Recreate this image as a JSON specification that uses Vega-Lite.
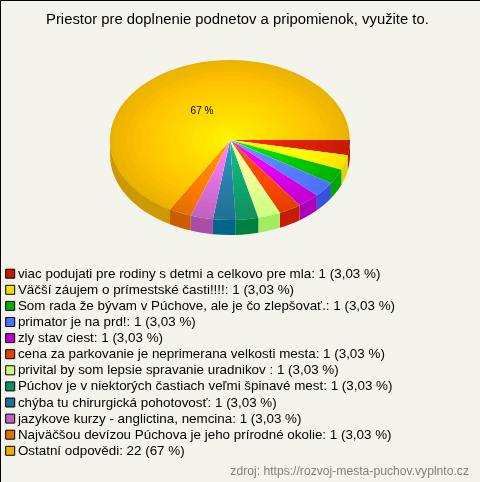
{
"$schema":"https://vega.github.io/schema/vega-lite/v6.json",
"width":480,"height":482,"padding":0,"autosize":{"type":"none"},
"background":"#f5f4ec",
"config":{"view":{"stroke":"#000","strokeWidth":1},"font":"Liberation Sans"},
"title":{"text":"Priestor pre doplnenie podnetov a pripomienok, využite to.","anchor":"start","frame":"group","dx":46,"offset":-27,"font":"Liberation Sans","fontSize":14.85,"fontWeight":"normal","color":"#000"},
"datasets":{"slices":[
{"answer":"viac podujati pre rodiny s detmi a celkovo pre mla","count":1,"label":"viac podujati pre rodiny s detmi a celkovo pre mla: 1 (3,03 %)"},
{"answer":"Väčší záujem o prímestské časti!!!!","count":1,"label":"Väčší záujem o prímestské časti!!!!: 1 (3,03 %)"},
{"answer":"Som rada že bývam v Púchove, ale je čo zlepšovať.","count":1,"label":"Som rada že bývam v Púchove, ale je čo zlepšovať.: 1 (3,03 %)"},
{"answer":"primator je na prd!","count":1,"label":"primator je na prd!: 1 (3,03 %)"},
{"answer":"zly stav ciest","count":1,"label":"zly stav ciest: 1 (3,03 %)"},
{"answer":"cena za parkovanie je neprimerana velkosti mesta","count":1,"label":"cena za parkovanie je neprimerana velkosti mesta: 1 (3,03 %)"},
{"answer":"privital by som lepsie spravanie uradnikov ","count":1,"label":"privital by som lepsie spravanie uradnikov : 1 (3,03 %)"},
{"answer":"Púchov je v niektorých častiach veľmi špinavé mest","count":1,"label":"Púchov je v niektorých častiach veľmi špinavé mest: 1 (3,03 %)"},
{"answer":"chýba tu chirurgická pohotovosť","count":1,"label":"chýba tu chirurgická pohotovosť: 1 (3,03 %)"},
{"answer":"jazykove kurzy - anglictina, nemcina","count":1,"label":"jazykove kurzy - anglictina, nemcina: 1 (3,03 %)"},
{"answer":"Najväčšou devízou Púchova je jeho prírodné okolie","count":1,"label":"Najväčšou devízou Púchova je jeho prírodné okolie: 1 (3,03 %)"},
{"answer":"Ostatní odpovědi","count":22,"label":"Ostatní odpovědi: 22 (67 %)"}
]},
"layer":[
{"data":{"name":"slices"},
 "mark":{"type":"point","filled":true,"opacity":1,"strokeWidth":0,"size":4},
 "encoding":{
  "x":{"datum":0,"type":"quantitative","scale":{"domain":[-230,250],"nice":false,"zero":false},"axis":null},
  "y":{"datum":0,"type":"quantitative","scale":{"domain":[342,-140],"nice":false,"zero":false},"axis":null},
  "shape":{"field":"answer","type":"nominal","sort":null,"legend":null,"scale":{"range":[
   "M120 0A120 80 0 0 1 117.83 15.14L117.83 30.14A120 80 0 0 0 120 15Z",
   "M117.83 15.14A120 80 0 0 1 111.4 29.73L111.4 44.73A120 80 0 0 0 117.83 30.14Z",
   "M111.4 29.73A120 80 0 0 1 100.95 43.25L100.95 58.25A120 80 0 0 0 111.4 44.73Z",
   "M100.95 43.25A120 80 0 0 1 86.85 55.21L86.85 70.21A120 80 0 0 0 100.95 58.25Z",
   "M86.85 55.21A120 80 0 0 1 69.61 65.17L69.61 80.17A120 80 0 0 0 86.85 70.21Z",
   "M69.61 65.17A120 80 0 0 1 49.85 72.77L49.85 87.77A120 80 0 0 0 69.61 80.17Z",
   "M49.85 72.77A120 80 0 0 1 28.29 77.74L28.29 92.74A120 80 0 0 0 49.85 87.77Z",
   "M28.29 77.74A120 80 0 0 1 5.71 79.91L5.71 94.91A120 80 0 0 0 28.29 92.74Z",
   "M5.71 79.91A120 80 0 0 1 -17.08 79.19L-17.08 94.19A120 80 0 0 0 5.71 94.91Z",
   "M-17.08 79.19A120 80 0 0 1 -39.25 75.6L-39.25 90.6A120 80 0 0 0 -17.08 94.19Z",
   "M-39.25 75.6A120 80 0 0 1 -60 69.28L-60 84.28A120 80 0 0 0 -39.25 90.6Z",
   "M-60 69.28A120 80 0 0 1 -120 0L-120 15A120 80 0 0 0 -60 84.28Z"
  ]}},
  "color":{"field":"answer","type":"nominal","sort":null,"legend":null,"scale":{"range":["#b81400","#e8d000","#00a800","#3355dd","#aa00bb","#c41e00","#a0ee60","#008040","#006688","#a84ea8","#cc5c00","#cc9900"]}}
 }},
{"data":{"name":"slices"},
 "mark":{"type":"point","filled":true,"opacity":1,"strokeWidth":0,"size":4},
 "encoding":{
  "x":{"datum":0,"type":"quantitative"},
  "y":{"datum":0,"type":"quantitative"},
  "shape":{"field":"answer","type":"nominal","sort":null,"legend":null,"scale":{"range":[
   "M0 0L120 0A120 80 0 0 1 117.83 15.14Z",
   "M0 0L117.83 15.14A120 80 0 0 1 111.4 29.73Z",
   "M0 0L111.4 29.73A120 80 0 0 1 100.95 43.25Z",
   "M0 0L100.95 43.25A120 80 0 0 1 86.85 55.21Z",
   "M0 0L86.85 55.21A120 80 0 0 1 69.61 65.17Z",
   "M0 0L69.61 65.17A120 80 0 0 1 49.85 72.77Z",
   "M0 0L49.85 72.77A120 80 0 0 1 28.29 77.74Z",
   "M0 0L28.29 77.74A120 80 0 0 1 5.71 79.91Z",
   "M0 0L5.71 79.91A120 80 0 0 1 -17.08 79.19Z",
   "M0 0L-17.08 79.19A120 80 0 0 1 -39.25 75.6Z",
   "M0 0L-39.25 75.6A120 80 0 0 1 -60 69.28Z",
   "M0 0L-60 69.28A120 80 0 1 1 120 0Z"
  ]}},
  "color":{"field":"label","type":"nominal","sort":null,"title":null,
   "scale":{"range":["#c41a00","#f4e000","#00b000","#4a70ff","#c000d0","#e04000","#ccff80","#109060","#207090","#c060c0","#e07000","#e8b000"]},
   "legend":{"orient":"none","legendX":3.5,"legendY":267,"columns":1,"symbolType":"square","symbolSize":81,"symbolStrokeColor":"#000","symbolStrokeWidth":1,"symbolOpacity":1,"labelFont":"Liberation Sans","labelFontSize":13.4,"labelColor":"#000","labelLimit":0,"labelOffset":1,"rowPadding":1.1,"padding":0}}
 }},
{"data":{"values":[{"ring":0.98},{"ring":0.92},{"ring":0.86},{"ring":0.8},{"ring":0.74},{"ring":0.68},{"ring":0.62},{"ring":0.56},{"ring":0.5},{"ring":0.44},{"ring":0.38},{"ring":0.32},{"ring":0.26},{"ring":0.2},{"ring":0.14},{"ring":0.08}]},
 "mark":{"type":"point","filled":true,"strokeWidth":0,"color":"#050505","opacity":1,"blend":"color-dodge","shape":"M-120 0A120 80 0 1 1 120 0A120 80 0 1 1 -120 0Z"},
 "encoding":{
  "x":{"datum":0,"type":"quantitative"},
  "y":{"datum":0,"type":"quantitative"},
  "size":{"field":"ring","type":"quantitative","legend":null,"scale":{"type":"pow","exponent":2,"domain":[0,1],"range":[0,4]}}
 }},
{"data":{"values":[{"share":"67 %"}]},
 "mark":{"type":"text","font":"Liberation Sans","fontSize":10,"color":"#000"},
 "encoding":{"x":{"datum":-28,"type":"quantitative"},"y":{"datum":-29,"type":"quantitative"},"text":{"field":"share"}}},
{"data":{"values":[{"source":"zdroj: https://rozvoj-mesta-puchov.vyplnto.cz"}]},
 "mark":{"type":"text","font":"Liberation Sans","fontSize":12.15,"color":"#808080","align":"right"},
 "encoding":{"x":{"datum":239,"type":"quantitative"},"y":{"datum":331,"type":"quantitative"},"text":{"field":"source"}}}
],
"resolve":{"scale":{"shape":"independent","color":"independent"}}
}
